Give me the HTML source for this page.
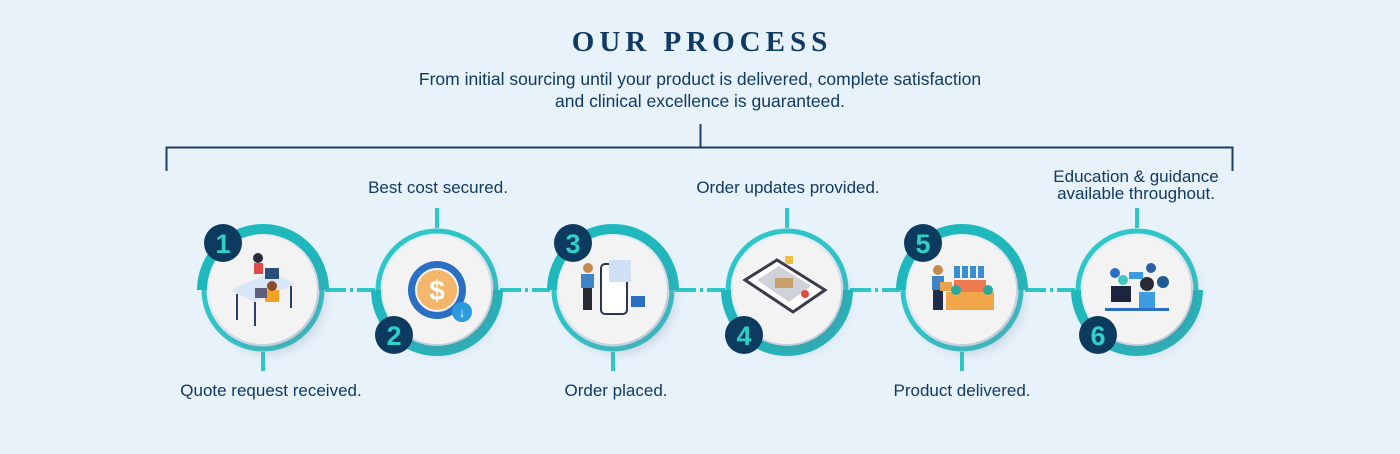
<!DOCTYPE html>
<html><head><meta charset="utf-8"><style>
html,body{margin:0;padding:0;background:#e8f2fb;}
body{width:1400px;height:454px;overflow:hidden;}
svg{display:block}
text{font-family:"Liberation Sans",sans-serif;fill:#0f3a63;}
</style></head><body>
<svg width="1400" height="454" viewBox="0 0 1400 454" xmlns="http://www.w3.org/2000/svg">
<defs>
<filter id="sh" x="-30%" y="-30%" width="160%" height="160%">
<feDropShadow dx="6" dy="8" stdDeviation="6" flood-color="#6a7f95" flood-opacity="0.35"/>
</filter>
</defs>
<rect width="1400" height="454" fill="#e8f2fb"/>
<text x="702" y="51" text-anchor="middle" font-weight="bold" font-size="29" letter-spacing="5" style="font-family:'Liberation Serif',serif">OUR PROCESS</text>
<text x="700" y="85" text-anchor="middle" font-size="17.5">From initial sourcing until your product is delivered, complete satisfaction</text>
<text x="700" y="107" text-anchor="middle" font-size="17.5">and clinical excellence is guaranteed.</text>
<path d="M166.5 171 V147.5 H1232.5 V171 M700.5 124 V147" fill="none" stroke="#1d3f66" stroke-width="2"/>

<g stroke="#2ec6c8" stroke-width="4">
<path d="M325 290H346M350 290H353M357 290H375"/>
<path d="M500 290H521M525 290H528M532 290H550"/>
<path d="M675 290H696M700 290H703M707 290H725"/>
<path d="M850 290H871M875 290H878M882 290H900"/>
<path d="M1025 290H1046M1050 290H1053M1057 290H1075"/>
</g>
<g stroke="#2ec6c8" stroke-width="4">
<path d="M263 352V371"/><path d="M437 208V228"/><path d="M613 352V371"/>
<path d="M787 208V228"/><path d="M962 352V371"/><path d="M1137 208V228"/>
</g>

<g>
<g transform="translate(263,290)">
<circle r="59" fill="none" stroke="#2ec6c8" stroke-width="5"/>
<path d="M-61 0 A61 61 0 0 1 61 0" fill="none" stroke="#1fb8bd" stroke-width="10"/>
<circle r="54" fill="#f3f3f4" filter="url(#sh)"/>
</g>
<g transform="translate(437,290)">
<circle r="59" fill="none" stroke="#2ec6c8" stroke-width="5"/>
<path d="M61 0 A61 61 0 0 1 -61 0" fill="none" stroke="#1fb8bd" stroke-width="10"/>
<circle r="54" fill="#f3f3f4" filter="url(#sh)"/>
</g>
<g transform="translate(613,290)">
<circle r="59" fill="none" stroke="#2ec6c8" stroke-width="5"/>
<path d="M-61 0 A61 61 0 0 1 61 0" fill="none" stroke="#1fb8bd" stroke-width="10"/>
<circle r="54" fill="#f3f3f4" filter="url(#sh)"/>
</g>
<g transform="translate(787,290)">
<circle r="59" fill="none" stroke="#2ec6c8" stroke-width="5"/>
<path d="M61 0 A61 61 0 0 1 -61 0" fill="none" stroke="#1fb8bd" stroke-width="10"/>
<circle r="54" fill="#f3f3f4" filter="url(#sh)"/>
</g>
<g transform="translate(962,290)">
<circle r="59" fill="none" stroke="#2ec6c8" stroke-width="5"/>
<path d="M-61 0 A61 61 0 0 1 61 0" fill="none" stroke="#1fb8bd" stroke-width="10"/>
<circle r="54" fill="#f3f3f4" filter="url(#sh)"/>
</g>
<g transform="translate(1137,290)">
<circle r="59" fill="none" stroke="#2ec6c8" stroke-width="5"/>
<path d="M61 0 A61 61 0 0 1 -61 0" fill="none" stroke="#1fb8bd" stroke-width="10"/>
<circle r="54" fill="#f3f3f4" filter="url(#sh)"/>
</g>
</g>

<g transform="translate(263,290)">
<path d="M-32 0 L8 -18 L32 -6 L-8 12 Z" fill="#d9e6f7"/>
<path d="M-26 4V30M-8 12V36M28 -4V18" stroke="#2a3f66" stroke-width="2"/>
<rect x="2" y="-22" width="14" height="11" fill="#2a4d7a"/>
<circle cx="-5" cy="-32" r="5" fill="#2a2a3a"/><rect x="-9" y="-27" width="9" height="11" fill="#e24a4a"/>
<rect x="2" y="0" width="14" height="12" fill="#f3a124"/><circle cx="9" cy="-4" r="5" fill="#8a4a2a"/>
<rect x="-8" y="-2" width="12" height="10" fill="#5e5e7a"/>
</g>
<g transform="translate(437,290)">
<circle r="29" fill="#2a6fc4"/><circle r="22" fill="#f4f4f4"/><circle r="20" fill="#f3b66b"/>
<text x="0" y="10" text-anchor="middle" font-size="28" font-weight="bold" style="fill:#fff">$</text>
<circle cx="25" cy="22" r="10" fill="#2b9be0"/><text x="25" y="27" text-anchor="middle" font-size="13" font-weight="bold" style="fill:#fff">↓</text>
</g>
<g transform="translate(613,290)">
<rect x="-12" y="-26" width="26" height="50" rx="4" fill="#fff" stroke="#2a3550" stroke-width="2"/>
<rect x="-4" y="-30" width="22" height="22" fill="#cfe0f4"/>
<circle cx="-25" cy="-22" r="5" fill="#c48a4a"/><rect x="-32" y="-16" width="13" height="14" fill="#3d85c6"/>
<rect x="-30" y="-2" width="9" height="22" fill="#2a2a35"/>
<rect x="18" y="6" width="14" height="11" fill="#2a6fc4"/>
</g>
<g transform="translate(787,290)">
<path d="M-42 -10 L-10 -30 L38 0 L6 22 Z" fill="#fff" stroke="#3a3a4a" stroke-width="3"/>
<path d="M-30 -10 L-8 -24 L24 -4 L2 12 Z" fill="#cfd2d8"/>
<rect x="-12" y="-12" width="18" height="10" fill="#c9a06a"/>
<circle cx="18" cy="4" r="4" fill="#e04a3a"/>
<rect x="-2" y="-34" width="8" height="8" fill="#f0c040"/>
</g>
<g transform="translate(962,290)">
<circle cx="-24" cy="-20" r="5" fill="#c48a4a"/><rect x="-30" y="-14" width="12" height="14" fill="#3d85c6"/>
<rect x="-29" y="0" width="10" height="20" fill="#1f2a4f"/>
<rect x="-22" y="-8" width="12" height="9" fill="#e8a24a"/>
<rect x="-16" y="2" width="48" height="18" fill="#f2a64a"/>
<rect x="-8" y="-10" width="32" height="12" fill="#ef7a52"/>
<g fill="#3a8ed0"><rect x="-8" y="-24" width="6" height="12"/><rect x="0" y="-24" width="6" height="12"/><rect x="8" y="-24" width="6" height="12"/><rect x="16" y="-24" width="6" height="12"/></g>
<circle cx="-6" cy="0" r="5" fill="#2aa89a"/><circle cx="26" cy="0" r="5" fill="#2aa89a"/>
</g>
<g transform="translate(1137,290)">
<rect x="-26" y="-4" width="20" height="16" fill="#1b2540"/>
<rect x="-32" y="18" width="64" height="3" fill="#2a6fc4"/>
<circle cx="10" cy="-6" r="7" fill="#2a2a35"/><rect x="2" y="2" width="16" height="16" fill="#3d9be0"/>
<circle cx="-22" cy="-17" r="5" fill="#2a6fc4"/><circle cx="-14" cy="-10" r="5" fill="#3dc8c0"/>
<rect x="-8" y="-18" width="14" height="7" fill="#3d9be0"/>
<circle cx="14" cy="-22" r="5" fill="#2a5fa0"/><circle cx="26" cy="-8" r="6" fill="#1f5a95"/>
</g>

<g font-weight="bold" font-size="27">
<circle cx="223" cy="243" r="19" fill="#0d3a5f"/><text x="223" y="253" text-anchor="middle" style="fill:#2fd0c8;font-weight:bold">1</text>
<circle cx="394" cy="335" r="19" fill="#0d3a5f"/><text x="394" y="345" text-anchor="middle" style="fill:#2fd0c8;font-weight:bold">2</text>
<circle cx="573" cy="243" r="19" fill="#0d3a5f"/><text x="573" y="253" text-anchor="middle" style="fill:#2fd0c8;font-weight:bold">3</text>
<circle cx="744" cy="335" r="19" fill="#0d3a5f"/><text x="744" y="345" text-anchor="middle" style="fill:#2fd0c8;font-weight:bold">4</text>
<circle cx="923" cy="243" r="19" fill="#0d3a5f"/><text x="923" y="253" text-anchor="middle" style="fill:#2fd0c8;font-weight:bold">5</text>
<circle cx="1098" cy="335" r="19" fill="#0d3a5f"/><text x="1098" y="345" text-anchor="middle" style="fill:#2fd0c8;font-weight:bold">6</text>
</g>

<g font-size="17" text-anchor="middle">
<text x="271" y="396">Quote request received.</text>
<text x="438" y="193">Best cost secured.</text>
<text x="616" y="396">Order placed.</text>
<text x="788" y="193">Order updates provided.</text>
<text x="962" y="396">Product delivered.</text>
<text x="1136" y="182">Education &amp; guidance</text>
<text x="1136" y="199">available throughout.</text>
</g>
</svg>
</body></html>
